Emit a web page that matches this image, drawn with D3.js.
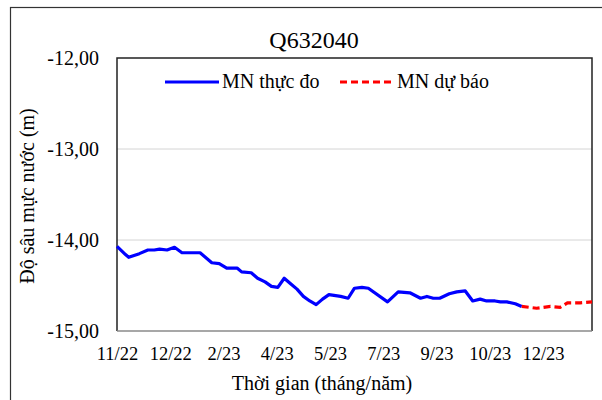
<!DOCTYPE html>
<html>
<head>
<meta charset="utf-8">
<script src="https://cdn.jsdelivr.net/npm/d3@7"></script>
<style>
  body { margin: 0; background: #fff; }
  svg text { font-family: 'Liberation Serif', 'Times New Roman', serif; fill: #000; }
</style>
</head>
<body>
<div id="chart"></div>
<script>
// observed series (day offset from start, water depth m)
const obsDays = [0, 8, 11, 21, 29, 35, 40, 47, 54, 61, 78, 89, 96, 103, 113, 117, 126, 132, 139, 145,
  151, 157, 163, 169, 175, 181, 187, 193, 199, 210, 217, 223, 230, 236, 254, 264, 275, 285, 291, 297,
  303, 312, 319, 327, 334, 341, 347, 355, 360, 366, 374, 380];
const obsValues = [-14.07, -14.16, -14.19, -14.15, -14.11, -14.11, -14.10, -14.11, -14.08, -14.14,
  -14.14, -14.25, -14.26, -14.31, -14.31, -14.35, -14.36, -14.42, -14.46, -14.51,
  -14.52, -14.42, -14.48, -14.54, -14.62, -14.67, -14.71, -14.65, -14.60, -14.62,
  -14.64, -14.53, -14.52, -14.53, -14.68, -14.57, -14.58, -14.64, -14.62, -14.64,
  -14.64, -14.59, -14.57, -14.56, -14.67, -14.65, -14.67, -14.67, -14.68, -14.68,
  -14.70, -14.73];

// forecast series
const fcDays = [380, 394, 407, 416, 423, 428, 435, 446];
const fcValues = [-14.73, -14.75, -14.73, -14.74, -14.69, -14.69, -14.69, -14.68];

const xTickLabels = ['11/22', '12/22', '2/23', '4/23', '5/23', '7/23', '9/23', '10/23', '12/23'];
const yTicks = [-12, -13, -14, -15];
const seriesNames = ['MN thực đo', 'MN dự báo'];

const W = 602;
const H = 400;
const plot = { l: 117, t: 58, r: 592, b: 331 };

const svg = d3.select('#chart').append('svg')
  .attr('width', W)
  .attr('height', H);

// outer chart frame (runs off the right/bottom edge)
svg.append('rect')
  .attr('x', 10.5)
  .attr('y', 7.5)
  .attr('width', 640)
  .attr('height', 440)
  .attr('fill', 'none')
  .attr('stroke', '#333')
  .attr('stroke-width', 1.2);

const x = d3.scaleLinear()
  .domain([0, 446])
  .range([plot.l, plot.r]);

const y = d3.scaleLinear()
  .domain([-15, -12])
  .range([plot.b, plot.t]);

const vn = d3.formatLocale({ decimal: ',', thousands: '.', grouping: [3], currency: ['', ''], minus: '-' });
const fmt = vn.format('.2f');

// gridlines
svg.append('g')
  .selectAll('line')
  .data([-13, -14])
  .join('line')
  .attr('x1', plot.l)
  .attr('x2', plot.r)
  .attr('y1', d => y(d))
  .attr('y2', d => y(d))
  .attr('stroke', '#d4d4d4')
  .attr('stroke-width', 1);

// y axis labels
const yAxis = d3.axisLeft(y)
  .tickValues(yTicks)
  .tickSize(0)
  .tickPadding(18)
  .tickFormat(fmt);

svg.append('g')
  .attr('class', 'axis axis--y')
  .attr('transform', `translate(${plot.l}, 0)`)
  .call(yAxis)
  .call(g => g.select('.domain').remove())
  .selectAll('text')
  .attr('font-size', 20)
  .attr('font-family', "'Liberation Serif', serif")
  .attr('fill', '#000');

// x axis labels
const xAxis = d3.axisBottom(x)
  .tickValues(xTickLabels.map((d, i) => i * 50))
  .tickSize(0)
  .tickPadding(16)
  .tickFormat((d, i) => xTickLabels[i]);

svg.append('g')
  .attr('class', 'axis axis--x')
  .attr('transform', `translate(0, ${plot.b})`)
  .call(xAxis)
  .call(g => g.select('.domain').remove())
  .selectAll('text')
  .attr('font-size', 18.5)
  .attr('font-family', "'Liberation Serif', serif")
  .attr('fill', '#000');

// plot border
const border = svg.append('g');
border.append('path')
  .attr('d', `M${plot.l},${plot.b}V${plot.t}H${plot.r}V${plot.b}`)
  .attr('fill', 'none')
  .attr('stroke', '#222')
  .attr('stroke-width', 1.5);
border.append('line')
  .attr('x1', plot.l)
  .attr('x2', plot.r)
  .attr('y1', plot.b)
  .attr('y2', plot.b)
  .attr('stroke', '#8a8a8a')
  .attr('stroke-width', 1.5);

// lines
const line = d3.line()
  .x(d => x(d[0]))
  .y(d => y(d[1]));

svg.append('path')
  .datum(d3.zip(obsDays, obsValues))
  .attr('fill', 'none')
  .attr('stroke', '#0000ff')
  .attr('stroke-width', 3.2)
  .attr('stroke-linejoin', 'round')
  .attr('d', line);

svg.append('path')
  .datum(d3.zip(fcDays, fcValues))
  .attr('fill', 'none')
  .attr('stroke', '#ff0000')
  .attr('stroke-width', 3.2)
  .attr('stroke-dasharray', '7,4')
  .attr('d', line);

// legend
const legend = svg.append('g').attr('class', 'legend');
const legendItems = [
  { name: seriesNames[0], color: '#0000ff', dash: null, x0: 165 },
  { name: seriesNames[1], color: '#ff0000', dash: '7,4', x0: 340 }
];
legendItems.forEach(item => {
  legend.append('line')
    .attr('x1', item.x0)
    .attr('x2', item.x0 + 54)
    .attr('y1', 82)
    .attr('y2', 82)
    .attr('stroke', item.color)
    .attr('stroke-width', 3.2)
    .attr('stroke-dasharray', item.dash);
  legend.append('text')
    .attr('x', item.x0 + 57)
    .attr('y', 88)
    .attr('font-size', 20)
    .text(item.name);
});

// title
svg.append('text')
  .attr('x', 314)
  .attr('y', 48)
  .attr('text-anchor', 'middle')
  .attr('font-size', 24)
  .text('Q632040');

// axis titles
svg.append('text')
  .attr('x', 322)
  .attr('y', 390)
  .attr('text-anchor', 'middle')
  .attr('font-size', 20)
  .text('Thời gian (tháng/năm)');

svg.append('text')
  .attr('transform', 'translate(34, 196) rotate(-90)')
  .attr('text-anchor', 'middle')
  .attr('font-size', 20)
  .text('Độ sâu mực nước (m)');
</script>
</body>
</html>
